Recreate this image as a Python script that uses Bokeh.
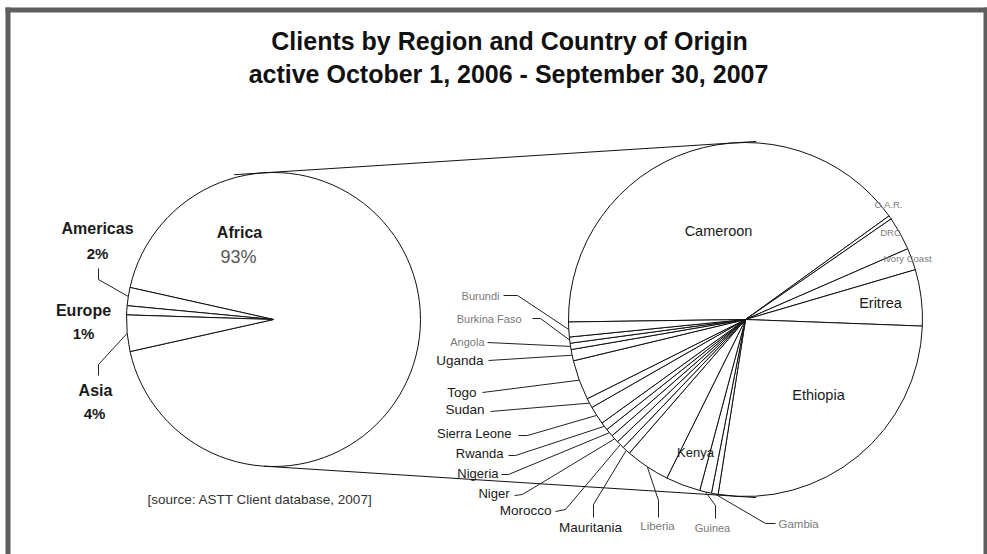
import math
from bokeh.plotting import figure
from bokeh.models import Range1d
from bokeh.embed import file_html
from bokeh.resources import INLINE
from bokeh.core.properties import value

# ---------------- data ----------------
regions = ["Africa", "Americas", "Europe", "Asia"]
region_pct = [93, 2, 1, 4]

countries = ["Cameroon", "C.A.R.", "DRC", "Ivory Coast", "Eritrea", "Ethiopia",
             "Gambia", "Guinea", "Kenya", "Liberia", "Mauritania", "Morocco",
             "Niger", "Nigeria", "Rwanda", "Sierra Leone", "Sudan", "Togo",
             "Uganda", "Angola", "Burkina Faso", "Burundi"]
country_pct = [40.3, 0.33, 3.08, 2.0, 5.14, 26.9,
               0.61, 1.08, 3.17, 4.06, 0.75, 0.73,
               0.73, 0.73, 0.73, 1.67, 0.89, 3.64,
               1.03, 0.58, 0.56, 1.36]

title_lines = ["Clients by Region and Country of Origin",
               "active October 1, 2006 - September 30, 2007"]
source_text = "[source: ASTT Client database, 2007]"

# ---------------- layout ----------------
W, H = 987, 554
FONT = value("Liberation Sans")


def Y(sy):
    return H - sy


p = figure(width=W, height=H, output_backend="svg", toolbar_location=None,
           x_axis_type=None, y_axis_type=None, min_border=0,
           x_range=Range1d(0, W), y_range=Range1d(0, H))
p.grid.visible = False
p.outline_line_color = None
p.background_fill_color = "white"
p.border_fill_color = "white"

# frame (top, left, right bands)
p.quad(left=[5, 5, 983], right=[987, 10, 987],
       top=[Y(7), Y(7), Y(7)], bottom=[Y(12), Y(H), Y(H)],
       fill_color="#5e5e5e", line_color=None)

# pie geometry
L_CX, L_CY, L_R = 273, Y(319), 147
R_CX, R_CY, R_R = 745, Y(319), 177

# ---- left pie ----
tot = sum(region_pct)
others = tot - region_pct[0]
a0 = math.pi + math.pi * others / tot  # Africa starts here, anticlockwise
l_starts, l_ends, l_mid = [], [], {}
a = a0
for name, v in zip(regions, region_pct):
    span = 2 * math.pi * v / tot
    l_starts.append(a)
    l_ends.append(a + span)
    l_mid[name] = a + span / 2
    a += span
p.wedge(x=L_CX, y=L_CY, radius=L_R, start_angle=l_starts, end_angle=l_ends,
        fill_color="white", line_color="#111111", line_width=1)

# ---- right pie ----
ctot = sum(country_pct)
start = math.radians(180.8)
r_starts, r_ends, r_mid = [], [], {}
a = start
for name, v in zip(countries, country_pct):
    span = 2 * math.pi * v / ctot
    r_starts.append(a - span)
    r_ends.append(a)
    r_mid[name] = a - span / 2
    a -= span
p.wedge(x=R_CX, y=R_CY, radius=R_R, start_angle=r_starts, end_angle=r_ends,
        fill_color="white", line_color="#111111", line_width=1)

# ---- connector lines (outer tangents) ----
d = R_CX - L_CX
phi = math.asin((R_R - L_R) / d)
nx, ny = -math.sin(phi), math.cos(phi)
ux, uy = math.cos(phi), math.sin(phi)
cx_list, cy_list = [], []
for sgn, ext_l, ext_r in [(1, 30, 22), (-1, 0, 22)]:
    p1 = (L_CX + L_R * nx, L_CY + sgn * L_R * ny)
    p2 = (R_CX + R_R * nx, R_CY + sgn * R_R * ny)
    dux, duy = ux, sgn * uy
    cx_list.append([p1[0] - ext_l * dux, p2[0] + ext_r * dux])
    cy_list.append([p1[1] - ext_l * duy, p2[1] + ext_r * duy])
p.multi_line(xs=cx_list, ys=cy_list, line_color="#111111", line_width=1)


def arc_pt(cx, cy, r, ang):
    return (cx + r * math.cos(ang), cy + r * math.sin(ang))


# ---- leader lines ----
right_leaders = {
    "Burundi": [(503, 295), (517, 295)],
    "Burkina Faso": [(532, 318), (540, 318)],
    "Angola": [(487, 342)],
    "Uganda": [(488, 360)],
    "Togo": [(482, 392)],
    "Sudan": [(490, 411)],
    "Sierra Leone": [(518, 435), (527, 435)],
    "Rwanda": [(508, 455), (515, 455)],
    "Nigeria": [(501, 474), (508, 474)],
    "Niger": [(514, 495), (522, 494)],
    "Morocco": [(555, 511), (565, 509)],
    "Mauritania": [(593, 517), (593, 504)],
    "Liberia": [(658, 517), (658, 500)],
    "Guinea": [(715, 518), (715, 505)],
    "Gambia": [(775, 523), (765, 523)],
}
lxs, lys = [], []
for name, pts in right_leaders.items():
    xs = [q[0] for q in pts]
    ys = [Y(q[1]) for q in pts]
    ex, ey = arc_pt(R_CX, R_CY, R_R, r_mid[name])
    lxs.append(xs + [ex])
    lys.append(ys + [ey])
left_leaders = {
    "Americas": [(98, 268), (98, 279)],
    "Asia": [(98, 375), (98, 364)],
}
for name, pts in left_leaders.items():
    xs = [q[0] for q in pts]
    ys = [Y(q[1]) for q in pts]
    ex, ey = arc_pt(L_CX, L_CY, L_R, l_mid[name])
    lxs.append(xs + [ex])
    lys.append(ys + [ey])
p.multi_line(xs=lxs, ys=lys, line_color="#222222", line_width=1)


def txt(x, sy, s, size, color="#1a1a1a", align="center", style="normal"):
    p.text(x=[x], y=[Y(sy)], text=[s], text_font=FONT, text_font_size=size,
           text_color=color, text_align=align, text_baseline="middle",
           text_font_style=style)


# title
txt(509, 40, title_lines[0], "25px", "#111111", style="bold")
txt(508, 73, title_lines[1], "25px", "#111111", style="bold")
# source
txt(147, 499, source_text, "13.5px", "#333333", align="left")

# left pie labels
txt(97, 228, "Americas", "16px", style="bold")
txt(97, 253, "2%", "15px", style="bold")
txt(83, 310, "Europe", "16px", style="bold")
txt(83, 333, "1%", "15px", style="bold")
txt(95, 390, "Asia", "16px", style="bold")
txt(94, 413, "4%", "15px", style="bold")
txt(239, 232, "Africa", "16px", style="bold")
txt(238, 256, "93%", "18px", "#555555")

# right pie inside labels
BLK = "#1a1a1a"
GRY = "#7a7a7a"
txt(718, 230, "Cameroon", "14.5px", BLK)
txt(880, 302, "Eritrea", "14.5px", BLK)
txt(818, 394, "Ethiopia", "14.5px", BLK)
txt(695, 452, "Kenya", "13px", BLK)
txt(888, 204, "C.A.R.", "9.5px", GRY)
txt(890, 232, "DRC", "9.5px", GRY)
txt(907, 258, "Ivory Coast", "9.5px", GRY)

# outer labels
outer = [
    ("Burundi", 499, 295, "11px", GRY, "right"),
    ("Burkina Faso", 521, 318, "11px", GRY, "right"),
    ("Angola", 484, 341, "11px", GRY, "right"),
    ("Uganda", 483, 360, "13.5px", BLK, "right"),
    ("Togo", 476, 392, "13.5px", BLK, "right"),
    ("Sudan", 484, 409, "13.5px", BLK, "right"),
    ("Sierra Leone", 511, 433, "13px", BLK, "right"),
    ("Rwanda", 503, 453, "13px", BLK, "right"),
    ("Nigeria", 498, 473, "13px", BLK, "right"),
    ("Niger", 509, 493, "13px", BLK, "right"),
    ("Morocco", 551, 510, "13.5px", BLK, "right"),
    ("Mauritania", 590, 527, "13.5px", BLK, "center"),
    ("Liberia", 657, 525, "11.5px", GRY, "center"),
    ("Guinea", 712, 527, "11px", GRY, "center"),
    ("Gambia", 778, 523, "11.5px", GRY, "left"),
]
for s, x, sy, size, col, al in outer:
    txt(x, sy, s, size, col, align=al)

open("out.html", "w").write(file_html(p, INLINE))
